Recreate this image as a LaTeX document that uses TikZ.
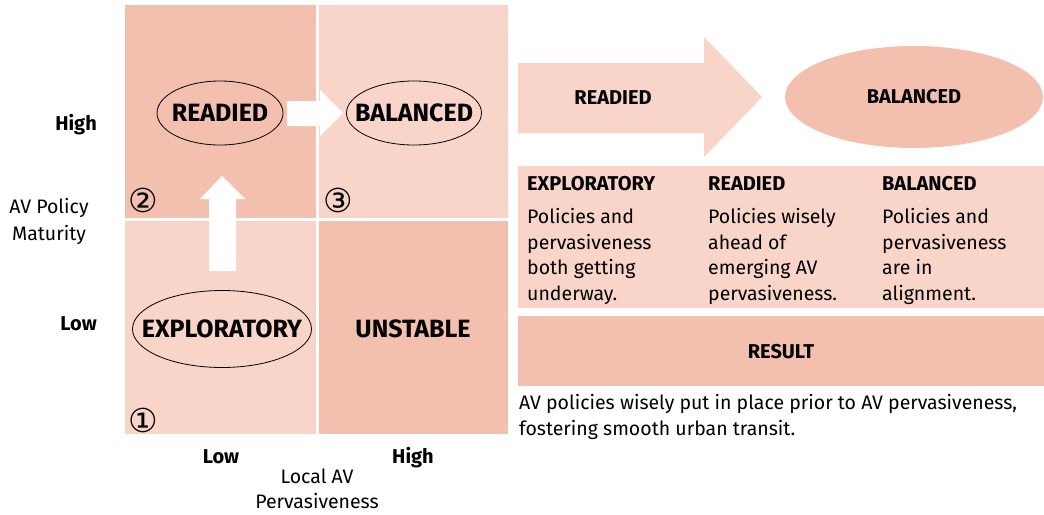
\documentclass[tikz,border=0pt]{standalone}
\usepackage{fontspec}
\setmainfont{Fira Sans}
\newfontfamily\circfont{DejaVu Sans}
\usetikzlibrary{shapes.geometric}
\definecolor{darkpink}{RGB}{243,192,176}
\definecolor{lightpink}{RGB}{248,213,200}
\begin{document}
\begin{tikzpicture}[x=1pt,y=-1pt,
  lbl/.style={font=\fontsize{19.5}{25.7}\selectfont,inner sep=0pt},
  hd/.style={font=\bfseries\fontsize{20}{25.7}\selectfont,inner sep=0pt},
  big/.style={font=\bfseries\fontsize{25}{28}\selectfont,inner sep=0pt},
  oval/.style={draw=black,thick},
  num/.style={font=\circfont\fontsize{33}{33}\selectfont,inner sep=0pt},
  body/.style={lbl,align=left,anchor=north west}]
  \useasboundingbox (0,0) rectangle (1044,514);
  % the four quadrants
  \fill[darkpink] (125,5) rectangle (316,218);
  \fill[lightpink] (319,5) rectangle (508,218);
  \fill[lightpink] (125,221) rectangle (316,434);
  \fill[darkpink] (319,221) rectangle (508,434);
  % white arrows
  \fill[white] (209,271) -- (209,199) -- (200,199) -- (222,176) -- (245,199) -- (236,199) -- (236,271) -- cycle;
  \fill[white] (287,101) -- (320,101) -- (320,90) -- (343,113) -- (320,136) -- (320,126) -- (287,126) -- cycle;
  \node[big] (readied) at (220,113) {READIED};
  \node[big] (balanced) at (414,113) {BALANCED};
  \node[big] (exploratory) at (222,329) {EXPLORATORY};
  \node[big] (unstable) at (413,329) {UNSTABLE};
  \draw[oval] (readied) ellipse [x radius=63, y radius=32];
  \draw[oval] (balanced) ellipse [x radius=67.5, y radius=32];
  \draw[oval] (exploratory) ellipse [x radius=89.5, y radius=38.5];
  \node[num] (n2) at (143,200) {②};
  \node[num] (n3) at (338,200) {③};
  \node[num] (n1) at (143,420) {①};
  % axis labels
  \node[hd,anchor=base east] (yhigh) at (97,130) {High};
  \node[hd,anchor=base east] (ylow) at (97,330) {Low};
  \node[lbl,anchor=base] (ytitle1) at (49,213) {AV Policy};
  \node[lbl,anchor=base] (ytitle2) at (49,240) {Maturity};
  \node[hd,anchor=base] (xlow) at (221,463) {Low};
  \node[hd,anchor=base] (xhigh) at (413,463) {High};
  \node[lbl,anchor=base] (xtitle1) at (317,483) {Local AV};
  \node[lbl,anchor=base] (xtitle2) at (317,508) {Pervasiveness};
  % right side
  \fill[lightpink] (518,63) -- (704,63) -- (704,37) -- (762,97) -- (704,157) -- (704,133) -- (518,133) -- cycle;
  \node[hd] (arrowtxt) at (613,98) {READIED};
  \node[ellipse,fill=darkpink,minimum width=258pt,minimum height=102pt,hd] (goal) at (914,97) {BALANCED};
  \fill[lightpink] (518,166) rectangle (1044,308);
  \node[hd,anchor=base west] (h1) at (527,190) {EXPLORATORY};
  \node[hd,anchor=base west] (h2) at (708,190) {READIED};
  \node[hd,anchor=base west] (h3) at (882,190) {BALANCED};
  \node[body] (b1) at (527,208) {Policies and\\pervasiveness\\both getting\\underway.};
  \node[body] (b2) at (708,208) {Policies wisely\\ahead of\\emerging AV\\pervasiveness.};
  \node[body] (b3) at (882,208) {Policies and\\pervasiveness\\are in\\alignment.};
  \fill[darkpink] (518,316) rectangle (1044,386);
  \node[hd] (result) at (781,352) {RESULT};
  \node[body] (note) at (519,394) {AV policies wisely put in place prior to AV pervasiveness,\\fostering smooth urban transit.};
\end{tikzpicture}
\end{document}
